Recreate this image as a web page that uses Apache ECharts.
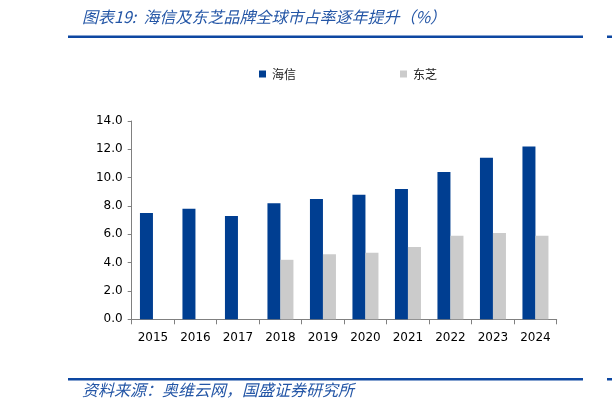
<!DOCTYPE html>
<html>
<head>
<meta charset="utf-8">
<script src="https://cdn.jsdelivr.net/npm/echarts@6/dist/echarts.min.js"></script>
<style>
html, body { margin: 0; padding: 0; background: #fff; }
#chart { width: 612px; height: 411px; }
</style>
</head>
<body>
<div id="chart"></div>
<script>
// 数据
var years = ['2015','2016','2017','2018','2019','2020','2021','2022','2023','2024'];
var hisense = [7.5, 7.8, 7.3, 8.2, 8.5, 8.8, 9.2, 10.4, 11.4, 12.2];
var toshiba = [null, null, null, 4.2, 4.6, 4.7, 5.1, 5.9, 6.1, 5.9];
var seriesNames = ['海信', '东芝'];

var titleText = '图表19:  海信及东芝品牌全球市占率逐年提升（%）';
var sourceText = '资料来源：奥维云网，国盛证券研究所';

var blue = '#003e91';
var gray = '#cbcbcb';
var lineBlue = '#0d47a1';

var chart = echarts.init(document.getElementById('chart'));
var option = {
    animation: false,
    backgroundColor: '#fff',
    graphic: [
        {
            type: 'text', left: 82, top: 9,
            style: {
                text: titleText,
                fill: '#2456a6',
                font: 'italic 16px "Noto Sans CJK SC"'
            }
        },
        { type: 'rect', shape: { x: 68, y: 35.5, width: 515, height: 2.5 }, style: { fill: lineBlue } },
        { type: 'rect', shape: { x: 607, y: 35.5, width: 5, height: 2.5 }, style: { fill: lineBlue } },
        { type: 'rect', shape: { x: 68, y: 378, width: 515, height: 2.5 }, style: { fill: lineBlue } },
        { type: 'rect', shape: { x: 607, y: 378, width: 5, height: 2.5 }, style: { fill: lineBlue } },
        {
            type: 'text', left: 82, top: 382,
            style: {
                text: sourceText,
                fill: '#2456a6',
                font: 'italic 16px "Noto Sans CJK SC"'
            }
        }
    ],
    legend: {
        data: seriesNames,
        left: 254,
        top: 63,
        itemWidth: 7,
        itemHeight: 7,
        itemGap: 104,
        icon: 'rect',
        textStyle: { fontFamily: 'Noto Sans CJK SC', fontSize: 12, color: '#222', padding: [0, 0, 0, 1] }
    },
    grid: {
        left: 131.7,
        right: 55.3,
        top: 121,
        bottom: 91.7
    },
    xAxis: {
        type: 'category',
        data: years,
        axisLine: { lineStyle: { color: '#808080', width: 1 } },
        axisTick: { show: true, length: 5, lineStyle: { color: '#808080' } },
        axisLabel: { color: '#000', fontFamily: 'DejaVu Sans', fontSize: 12, margin: 13 }
    },
    yAxis: {
        type: 'value',
        min: 0,
        max: 14,
        interval: 2,
        splitLine: { show: false },
        axisLine: { show: true, lineStyle: { color: '#808080', width: 1 } },
        axisTick: { show: true, length: 4, lineStyle: { color: '#808080' } },
        axisLabel: {
            color: '#000', fontFamily: 'DejaVu Sans', fontSize: 12, margin: 9,
            formatter: function (v) { return v.toFixed(1); }
        }
    },
    series: [
        {
            name: seriesNames[0],
            type: 'bar',
            data: hisense,
            barWidth: 13,
            barGap: '0%',
            itemStyle: { color: blue }
        },
        {
            name: seriesNames[1],
            type: 'bar',
            data: toshiba,
            barWidth: 13,
            itemStyle: { color: gray }
        }
    ]
};
chart.setOption(option);
</script>
</body>
</html>
